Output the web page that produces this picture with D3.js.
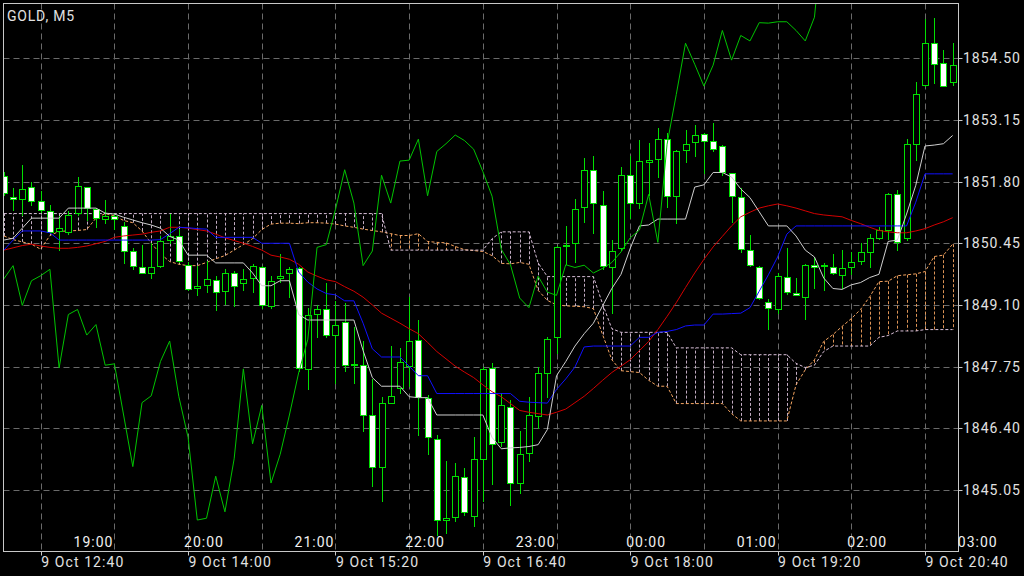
<!DOCTYPE html>
<html>
<head>
<meta charset="utf-8">
<script src="https://cdn.jsdelivr.net/npm/d3@7"></script>
<style>
html,body{margin:0;padding:0;background:#000;overflow:hidden}
svg{display:block}
</style>
</head>
<body>
<svg id="chart" width="1024" height="576"></svg>
<script>
// ---------------- DATA ----------------
const symbolLabel = "GOLD, M5";

const opens = [
1851.93,1851.47,1851.41,1851.69,1851.37,1851.16,1850.72,1850.70,1851.12,1851.69,
1851.20,1850.98,1851.04,1850.83,1850.27,1849.93,1849.80,1849.96,1850.53,1850.61,
1849.98,1849.46,1849.54,1849.65,1849.40,1849.80,1849.57,1849.69,1849.93,1849.08,
1849.69,1849.80,1849.90,1847.70,1848.91,1849.02,1848.45,1848.73,1847.78,1847.78,
1846.69,1845.56,1846.96,1847.28,1847.76,1848.34,1847.07,1846.17,1844.40,1844.46,
1845.33,1844.47,1845.72,1847.72,1846.10,1846.86,1845.20,1845.85,1846.67,1847.60,
1848.39,1850.39,1850.45,1851.25,1852.06,1851.28,1849.92,1850.34,1851.94,1851.33,
1852.24,1852.30,1852.73,1851.49,1852.49,1852.67,1852.84,1852.68,1852.57,1851.98,
1851.46,1850.30,1849.93,1849.17,1849.00,1849.71,1849.36,1849.28,1849.98,1849.96,
1849.92,1849.75,1849.92,1850.06,1850.25,1850.57,1850.74,1851.52,1850.57,1852.63,
1853.91,1854.83,1854.39,1853.98];

const highs = [
1852.00,1851.67,1852.17,1851.79,1851.60,1851.29,1851.05,1851.15,1851.91,1851.69,
1851.22,1851.39,1851.08,1850.91,1850.34,1850.41,1850.45,1850.61,1851.08,1850.76,
1850.03,1849.96,1850.07,1849.73,1849.88,1849.84,1849.88,1849.99,1849.96,1849.73,
1850.22,1849.92,1849.92,1849.04,1849.09,1849.57,1849.19,1849.15,1848.62,1848.31,
1847.47,1847.09,1848.20,1848.16,1849.27,1848.77,1847.13,1846.25,1845.68,1845.64,
1845.53,1846.21,1847.74,1847.82,1847.17,1847.02,1846.33,1847.09,1847.74,1848.39,
1850.38,1850.83,1851.41,1852.32,1852.35,1851.60,1850.53,1852.13,1852.35,1852.72,
1852.65,1852.97,1852.87,1852.50,1852.94,1853.05,1852.87,1853.09,1852.61,1851.98,
1851.67,1850.64,1849.96,1849.23,1849.80,1850.34,1849.69,1849.99,1850.15,1850.01,
1850.22,1850.30,1850.26,1850.45,1850.65,1850.80,1851.55,1851.62,1852.74,1853.99,
1855.36,1855.38,1854.68,1854.83];

const lows = [
1851.50,1851.18,1851.06,1851.29,1851.14,1850.67,1850.30,1850.66,1851.06,1850.96,
1850.80,1850.89,1850.76,1850.01,1849.88,1849.80,1849.69,1849.92,1850.45,1850.03,
1849.42,1849.31,1849.38,1848.98,1849.12,1849.08,1849.42,1849.38,1849.04,1849.04,
1849.61,1849.27,1847.66,1847.26,1848.39,1848.39,1847.40,1847.66,1847.40,1846.33,
1845.14,1844.80,1846.96,1847.17,1847.32,1846.25,1845.83,1844.07,1844.11,1844.38,
1844.51,1844.27,1844.80,1845.18,1846.02,1844.72,1844.99,1845.68,1846.40,1847.09,
1848.05,1849.99,1850.03,1850.91,1850.68,1849.88,1848.93,1850.30,1851.00,1851.22,
1851.50,1851.91,1851.25,1850.89,1852.24,1852.35,1851.99,1852.48,1851.95,1850.91,
1850.25,1849.96,1849.23,1848.58,1848.92,1849.35,1849.31,1848.79,1849.47,1849.42,
1849.77,1849.46,1849.77,1849.99,1849.92,1850.54,1850.54,1850.30,1850.52,1852.28,
1853.89,1853.97,1853.89,1853.91];

const closes = [
1851.56,1851.42,1851.64,1851.38,1851.18,1850.70,1850.78,1851.06,1851.70,1851.23,
1851.01,1851.04,1850.99,1850.27,1849.96,1849.80,1849.94,1850.50,1850.60,1850.07,
1849.44,1849.52,1849.67,1849.38,1849.80,1849.52,1849.67,1849.96,1849.09,1849.63,
1849.74,1849.88,1847.72,1848.89,1849.00,1848.44,1848.67,1847.78,1847.81,1846.69,
1845.56,1846.96,1847.11,1847.86,1848.31,1847.09,1846.20,1844.39,1844.43,1845.35,
1844.57,1845.73,1847.70,1846.06,1846.90,1845.20,1845.83,1846.69,1847.61,1848.35,
1850.36,1850.42,1851.19,1852.06,1851.33,1849.96,1850.28,1851.94,1851.33,1852.25,
1852.27,1852.73,1851.49,1852.46,1852.63,1852.82,1852.70,1852.51,1852.02,1851.48,
1850.32,1849.98,1849.25,1849.04,1849.73,1849.38,1849.31,1849.98,1849.92,1849.97,
1849.80,1849.90,1850.03,1850.26,1850.57,1850.74,1851.52,1850.47,1852.62,1853.71,
1854.83,1854.37,1853.89,1854.35];

// Tenkan-sen (white)
const tenkan = [
1850.52,1850.56,1850.78,1851.00,1851.00,1851.00,1851.00,1851.22,1851.22,1851.22,
1851.22,1851.11,1851.09,1851.02,1850.96,1850.90,1850.85,1850.78,1850.60,1850.52,
1850.19,1850.19,1850.19,1850.02,1850.02,1850.02,1850.02,1849.80,1849.52,1849.52,
1849.63,1849.63,1848.89,1848.77,1848.77,1848.77,1848.77,1848.77,1848.77,1848.10,
1847.51,1847.32,1847.32,1847.32,1847.09,1847.07,1847.07,1846.69,1846.69,1846.69,
1846.69,1846.69,1846.69,1846.20,1845.95,1845.97,1845.98,1846.00,1846.04,1846.37,
1847.55,1847.86,1848.20,1848.47,1848.70,1849.08,1849.46,1849.77,1850.34,1850.83,
1850.85,1850.98,1850.98,1850.98,1850.98,1851.68,1851.73,1852.00,1852.00,1851.90,
1851.64,1851.45,1851.14,1850.83,1850.83,1850.83,1850.61,1850.30,1850.15,1849.69,
1849.46,1849.44,1849.54,1849.59,1849.70,1849.77,1850.49,1850.52,1851.09,1851.72,
1852.58,1852.60,1852.63,1852.81];

// Kijun-sen (blue)
const kijun = [
1850.30,1850.52,1850.72,1850.72,1850.72,1850.68,1850.52,1850.52,1850.52,1850.52,
1850.52,1850.52,1850.52,1850.52,1850.52,1850.52,1850.52,1850.53,1850.66,1850.80,
1850.79,1850.77,1850.76,1850.58,1850.58,1850.58,1850.58,1850.58,1850.45,1850.45,
1850.45,1850.45,1849.82,1849.60,1849.45,1849.35,1849.32,1849.19,1849.19,1848.70,
1848.14,1847.96,1847.96,1847.96,1847.76,1847.55,1847.55,1847.16,1847.16,1847.16,
1847.16,1847.16,1847.16,1847.16,1847.16,1847.16,1846.99,1846.97,1846.96,1846.95,
1847.25,1847.48,1847.74,1848.18,1848.20,1848.20,1848.20,1848.20,1848.20,1848.39,
1848.39,1848.50,1848.52,1848.56,1848.64,1848.66,1848.66,1848.90,1848.90,1848.91,
1848.92,1849.04,1849.40,1849.76,1850.15,1850.65,1850.83,1850.83,1850.83,1850.83,
1850.83,1850.83,1850.83,1850.83,1850.83,1850.83,1850.83,1850.83,1850.83,1851.35,
1851.97,1851.97,1851.97,1851.97];

// Moving average (red)
const maLine = [
1850.30,1850.35,1850.40,1850.43,1850.39,1850.36,1850.34,1850.34,1850.36,1850.39,
1850.44,1850.49,1850.58,1850.61,1850.63,1850.65,1850.69,1850.72,1850.80,1850.80,
1850.78,1850.75,1850.72,1850.65,1850.57,1850.51,1850.45,1850.38,1850.30,1850.19,
1850.15,1850.10,1849.99,1849.82,1849.73,1849.65,1849.61,1849.50,1849.40,1849.27,
1849.10,1848.92,1848.81,1848.70,1848.58,1848.47,1848.28,1848.08,1847.92,1847.76,
1847.63,1847.51,1847.35,1847.20,1847.09,1846.94,1846.79,1846.75,1846.72,1846.69,
1846.75,1846.82,1846.96,1847.10,1847.27,1847.45,1847.62,1847.76,1847.90,1848.10,
1848.30,1848.56,1848.85,1849.15,1849.48,1849.80,1850.10,1850.37,1850.60,1850.83,
1851.03,1851.13,1851.22,1851.27,1851.31,1851.27,1851.22,1851.16,1851.10,1851.07,
1851.05,1851.03,1850.95,1850.88,1850.80,1850.73,1850.70,1850.68,1850.68,1850.72,
1850.77,1850.85,1850.92,1851.01];

// Chikou span (green), bars 0..89
const chikou = [
1849.67,1849.96,1849.09,1849.63,1849.74,1849.88,1847.72,1848.89,1849.00,1848.44,
1848.67,1847.78,1847.81,1846.69,1845.56,1846.96,1847.11,1847.86,1848.31,1847.09,
1846.20,1844.39,1844.43,1845.35,1844.57,1845.73,1847.70,1846.06,1846.90,1845.20,
1845.83,1846.69,1847.61,1848.35,1850.36,1850.42,1851.19,1852.06,1851.33,1849.96,
1850.28,1851.94,1851.33,1852.25,1852.27,1852.73,1851.49,1852.46,1852.63,1852.82,
1852.70,1852.51,1852.02,1851.48,1850.32,1849.98,1849.25,1849.04,1849.73,1849.38,
1849.31,1849.98,1849.92,1849.97,1849.80,1849.90,1850.03,1850.26,1850.57,1850.74,
1851.52,1850.47,1852.62,1853.71,1854.83,1854.37,1853.89,1854.35,1855.11,1854.46,
1855.00,1854.88,1855.28,1855.27,1855.30,1855.30,1855.11,1854.88,1855.40,1857.50];

// Senkou span A (sandy brown)
const spanA = [
1850.61,1850.53,1850.48,1850.43,1850.32,1850.62,1850.71,1850.72,1850.73,1850.75,
1851.00,1851.10,1851.05,1850.95,1850.90,1850.72,1850.45,1850.22,1850.05,1849.99,
1849.96,1849.96,1850.03,1850.11,1850.18,1850.30,1850.42,1850.55,1850.75,1850.87,
1850.89,1850.89,1850.88,1850.90,1850.90,1850.89,1850.87,1850.83,1850.80,1850.76,
1850.73,1850.70,1850.66,1850.62,1850.62,1850.66,1850.49,1850.47,1850.46,1850.38,
1850.31,1850.29,1850.27,1850.18,1850.01,1850.00,1850.03,1849.99,1849.42,1849.20,
1849.10,1849.08,1849.07,1849.06,1849.02,1848.45,1847.90,1847.66,1847.64,1847.62,
1847.45,1847.32,1847.32,1846.94,1846.94,1846.94,1846.94,1846.94,1846.94,1846.72,
1846.56,1846.56,1846.56,1846.56,1846.56,1846.56,1847.35,1847.68,1847.90,1848.30,
1848.45,1848.63,1848.80,1849.00,1849.28,1849.61,1849.62,1849.74,1849.76,1849.78,
1849.83,1850.16,1850.19,1850.43];

// Senkou span B (thistle)
const spanB = [
1851.10,1851.10,1851.10,1851.10,1851.10,1851.10,1851.10,1851.10,1851.10,1851.10,
1851.10,1851.10,1851.10,1851.10,1851.10,1851.10,1851.10,1851.10,1851.10,1851.10,
1851.10,1851.10,1851.10,1851.10,1851.10,1851.10,1851.10,1851.10,1851.10,1851.10,
1851.10,1851.10,1851.10,1851.10,1851.10,1851.10,1851.10,1851.10,1851.10,1851.10,
1851.10,1851.10,1850.30,1850.30,1850.30,1850.30,1850.30,1850.30,1850.30,1850.30,
1850.30,1850.30,1850.30,1850.55,1850.70,1850.70,1850.70,1850.70,1850.02,1849.72,
1849.72,1849.72,1849.72,1849.72,1849.72,1849.12,1848.58,1848.50,1848.50,1848.50,
1848.50,1848.50,1848.50,1848.16,1848.16,1848.16,1848.16,1848.16,1848.16,1848.16,
1848.01,1848.01,1848.01,1848.01,1848.01,1848.01,1847.82,1847.73,1847.78,1848.08,
1848.20,1848.20,1848.20,1848.20,1848.20,1848.39,1848.43,1848.53,1848.53,1848.53,
1848.56,1848.56,1848.56,1848.56];

const priceTicks = [1854.50, 1853.15, 1851.80, 1850.45, 1849.10, 1847.75, 1846.40, 1845.05];
const gridBars = [4, 12, 20, 28, 36, 44, 52, 60, 68, 76, 84, 92, 100];
const dateTickBars = [4, 20, 36, 52, 68, 84, 100];
const dateTickLabels = ["9 Oct 12:40", "9 Oct 14:00", "9 Oct 15:20", "9 Oct 16:40", "9 Oct 18:00", "9 Oct 19:20", "9 Oct 20:40"];
const hourTickBars = [12, 24, 36, 48, 60, 72, 84, 96, 108];
const hourTickLabels = ["19:00", "20:00", "21:00", "22:00", "23:00", "00:00", "01:00", "02:00", "03:00"];

// ---------------- DRAW ----------------
const svg = d3.select("#chart");
const plot = {left: 3.5, top: 3.5, right: 958.5, bottom: 551.5};
const x = d3.scaleLinear().domain([4, 100]).range([40.7, 925.0]);
const y = d3.scaleLinear().domain([1845.05, 1854.50]).range([489.9, 58.3]);
const px = v => Math.round(v) + 0.5;

const C = {
  bg: "#000000", grid: "#6a6a6a", frame: "#c8c8c8", text: "#e2e2e2",
  candle: "#00e000", chikou: "#00c400", tenkan: "#cfcfcf", kijun: "#1010ff",
  ma: "#d40000", spanA: "#f4a460", spanB: "#d8bfd8"
};
const font = "Roboto, 'Noto Sans', Arial, sans-serif";

svg.append("rect").attr("width", 1024).attr("height", 576).attr("fill", C.bg);

svg.append("defs").append("clipPath").attr("id", "clip")
  .append("rect").attr("x", plot.left).attr("y", plot.top)
  .attr("width", plot.right - plot.left).attr("height", plot.bottom - plot.top);

// grid
const grid = svg.append("g").attr("stroke", C.grid).attr("stroke-width", 1).attr("stroke-dasharray", "6,4");
grid.selectAll("line.h").data(priceTicks).join("line").attr("class", "h")
  .attr("x1", plot.left).attr("x2", plot.right)
  .attr("y1", d => px(y(d))).attr("y2", d => px(y(d)));
grid.selectAll("line.v").data(gridBars).join("line").attr("class", "v")
  .attr("x1", d => px(x(d))).attr("x2", d => px(x(d)))
  .attr("y1", plot.top).attr("y2", plot.bottom);

const g = svg.append("g").attr("clip-path", "url(#clip)");
const bars = d3.range(opens.length);

// cloud hatch
g.append("g").selectAll("line").data(bars).join("line")
  .attr("x1", i => px(x(i))).attr("x2", i => px(x(i)))
  .attr("y1", i => y(spanA[i])).attr("y2", i => y(spanB[i]))
  .attr("stroke", i => spanA[i] >= spanB[i] ? C.spanA : C.spanB)
  .attr("stroke-width", 1).attr("stroke-dasharray", "3,2").attr("opacity", 0.9);

const lineGen = d3.line().x((d, i) => x(i)).y(d => y(d));
g.append("path").datum(spanA).attr("d", lineGen).attr("fill", "none")
  .attr("stroke", C.spanA).attr("stroke-width", 1).attr("stroke-dasharray", "3,2");
g.append("path").datum(spanB).attr("d", lineGen).attr("fill", "none")
  .attr("stroke", C.spanB).attr("stroke-width", 1).attr("stroke-dasharray", "3,2");

// candles
const cg = g.append("g");
cg.selectAll("line.wick").data(bars).join("line").attr("class", "wick")
  .attr("x1", i => px(x(i))).attr("x2", i => px(x(i)))
  .attr("y1", i => Math.round(y(highs[i]))).attr("y2", i => Math.round(y(lows[i])) + 1)
  .attr("stroke", C.candle).attr("stroke-width", 1);
cg.selectAll("rect.body").data(bars).join("rect").attr("class", "body")
  .attr("x", i => px(x(i)) - 3)
  .attr("y", i => px(y(Math.max(opens[i], closes[i]))))
  .attr("width", 6)
  .attr("height", i => Math.max(0.01, px(y(Math.min(opens[i], closes[i]))) - px(y(Math.max(opens[i], closes[i])))))
  .attr("fill", i => closes[i] >= opens[i] ? "#000000" : "#ffffff")
  .attr("stroke", C.candle).attr("stroke-width", 1)
  .attr("shape-rendering", "crispEdges");

// indicator lines
const addLine = (arr, color) => g.append("path").datum(arr).attr("d", lineGen)
  .attr("fill", "none").attr("stroke", color).attr("stroke-width", 1);
addLine(maLine, C.ma);
addLine(kijun, C.kijun);
addLine(tenkan, C.tenkan);
addLine(chikou, C.chikou);

// frame
svg.append("rect").attr("x", plot.left).attr("y", plot.top)
  .attr("width", plot.right - plot.left).attr("height", plot.bottom - plot.top)
  .attr("fill", "none").attr("stroke", C.frame).attr("stroke-width", 1);

// price axis
const ya = svg.append("g");
ya.selectAll("line").data(priceTicks).join("line")
  .attr("x1", plot.right).attr("x2", plot.right + 4)
  .attr("y1", d => px(y(d))).attr("y2", d => px(y(d)))
  .attr("stroke", C.frame);
ya.selectAll("text").data(priceTicks).join("text")
  .attr("x", plot.right + 4.5).attr("y", d => y(d) + 5)
  .attr("fill", C.text).attr("font-family", font).attr("font-size", 14)
  .attr("letter-spacing", 1)
  .text(d => d.toFixed(2));

// date axis
const xa = svg.append("g");
xa.selectAll("line").data(dateTickBars).join("line")
  .attr("x1", d => px(x(d))).attr("x2", d => px(x(d)))
  .attr("y1", plot.bottom).attr("y2", plot.bottom + 4)
  .attr("stroke", C.frame);
xa.selectAll("text").data(dateTickBars).join("text")
  .attr("x", d => x(d) + 0.5).attr("y", 567)
  .attr("fill", C.text).attr("font-family", font).attr("font-size", 14)
  .attr("letter-spacing", 1.1)
  .text((d, i) => dateTickLabels[i]);

// hour labels
svg.append("g").selectAll("text").data(hourTickBars).join("text")
  .attr("x", d => x(d) - 1).attr("y", 546.5)
  .attr("text-anchor", "end")
  .attr("fill", "#f0f0f0").attr("font-family", font).attr("font-size", 14)
  .attr("letter-spacing", 1)
  .text((d, i) => hourTickLabels[i]);

// symbol label
svg.append("text").attr("x", 7).attr("y", 21)
  .attr("fill", C.text).attr("font-family", font).attr("font-size", 14)
  .attr("letter-spacing", 0.8)
  .text(symbolLabel);
</script>
</body>
</html>
